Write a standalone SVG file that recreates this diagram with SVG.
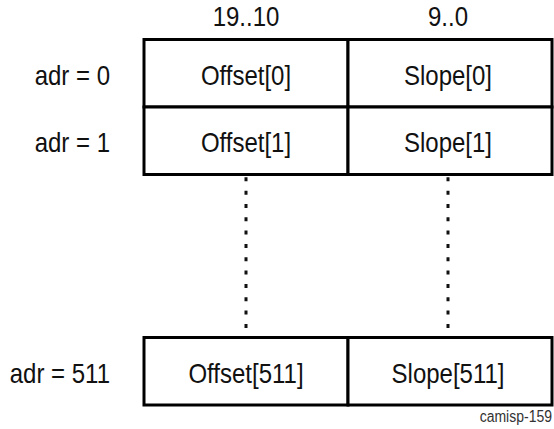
<svg xmlns="http://www.w3.org/2000/svg" width="554" height="429" viewBox="0 0 554 429">
<style>
.cell{fill:#fff;stroke:#000;stroke-width:3}
.t{font-family:"Liberation Sans",Arial,sans-serif;font-size:24px;fill:#111;text-anchor:middle}
.lbl{font-family:"Liberation Sans",Arial,sans-serif;font-size:24px;fill:#111;text-anchor:end}
.dot{stroke:#111;stroke-width:3;stroke-dasharray:4 9.33;fill:none}
.note{font-family:"Liberation Sans",Arial,sans-serif;font-size:14px;fill:#333;text-anchor:end}
</style>
<rect width="554" height="429" fill="#fff"/>
<g id="headers">
<text class="t" transform="translate(246 26) scale(1 1.13)">19..10</text>
<text class="t" transform="translate(448 26) scale(1 1.13)">9..0</text>
</g>
<g id="labels">
<text class="lbl" transform="translate(110 84.7) scale(1 1.13)">adr = 0</text>
<text class="lbl" transform="translate(110 152.2) scale(1 1.13)">adr = 1</text>
<text class="lbl" transform="translate(110 382.7) scale(1 1.13)">adr = 511</text>
</g>
<g id="row0">
<rect class="cell" x="144" y="39.5" width="204" height="67.5"/>
<rect class="cell" x="348" y="39.5" width="204" height="67.5"/>
<text class="t" transform="translate(246 84.7) scale(1 1.13)">Offset[0]</text>
<text class="t" transform="translate(448 84.7) scale(1 1.13)">Slope[0]</text>
</g>
<g id="row1">
<rect class="cell" x="144" y="107" width="204" height="67.5"/>
<rect class="cell" x="348" y="107" width="204" height="67.5"/>
<text class="t" transform="translate(246 152.2) scale(1 1.13)">Offset[1]</text>
<text class="t" transform="translate(448 152.2) scale(1 1.13)">Slope[1]</text>
</g>
<g id="row511">
<rect class="cell" x="144" y="337.5" width="204" height="67.5"/>
<rect class="cell" x="348" y="337.5" width="204" height="67.5"/>
<text class="t" transform="translate(246 382.7) scale(1 1.13)">Offset[511]</text>
<text class="t" transform="translate(448 382.7) scale(1 1.13)">Slope[511]</text>
</g>
<g id="connectors">
<line class="dot" x1="246" y1="177.3" x2="246" y2="328"/>
<line class="dot" x1="448" y1="177.3" x2="448" y2="328"/>
</g>
<text class="note" transform="translate(552 422) scale(1 1.13)">camisp-159</text>
</svg>
